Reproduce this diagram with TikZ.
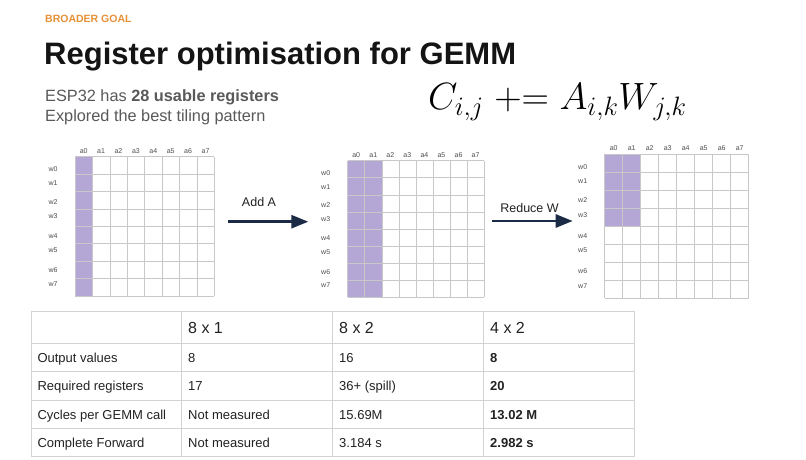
\RequirePackage{fix-cm}
\documentclass[tikz,border=0pt]{standalone}
\usepackage[no-math]{fontspec}
\setmainfont{Liberation Sans}
\usetikzlibrary{arrows.meta}
\definecolor{orangeT}{HTML}{E69138}
\definecolor{subgray}{HTML}{595959}
\definecolor{gridgray}{HTML}{C8C8C8}
\definecolor{lav}{HTML}{B4A7D6}
\definecolor{navy}{HTML}{1C2B45}
\definecolor{tabline}{HTML}{D3D3D3}
\definecolor{txt}{HTML}{222222}
\tikzset{
  gridline/.style={draw=gridgray, line width=0.6pt},
  collab/.style={font=\fontsize{7}{7}\selectfont, text=txt!80, inner sep=0pt},
  rowlab/.style={font=\fontsize{7}{7}\selectfont, text=txt!80, inner sep=0pt},
  bigarrow/.style={draw=navy, line width=2.7pt, -{Triangle[length=17pt,width=13pt]}},
  arrowlab/.style={font=\fontsize{12.5}{12.5}\selectfont, text=txt, anchor=base, inner sep=0pt},
  tabrule/.style={draw=tabline, line width=0.9pt},
  tabhead/.style={font=\fontsize{16}{16}\selectfont, text=txt, anchor=base west, inner sep=0pt},
  tabcell/.style={font=\fontsize{13}{13}\selectfont, text=txt, anchor=base west, inner sep=0pt},
  tabbold/.style={tabcell, font=\fontsize{13}{13}\selectfont\bfseries},
}
\newcommand\drawRegGrid[6]{%
  \fill[lav] (#2,#3) rectangle ++(#5*#4, #6*#4);
  \foreach \i in {0,...,8} {
    \draw[gridline] (#2+\i*#4, #3) -- ++(0, 8*#4);
    \draw[gridline] (#2, #3+\i*#4) -- ++(8*#4, 0);
  }
  \foreach \i in {0,...,7}
    \node[collab] (#1-a\i) at (#2+\i*#4+0.5*#4, #3-6) {a\i};
  \foreach \i/\o in {0/12.6,1/26.6,2/45,3/59.3,4/79.3,5/93.3,6/113.3,7/127.3}
    \node[rowlab] (#1-w\i) at (#2-22, #3+\o*#4/17.4) {w\i};
}
\begin{document}
\begin{tikzpicture}[x=1pt, y=-1pt]
\useasboundingbox[fill=white] (0,0) rectangle (806,460);

% header texts
\node[anchor=base west, inner sep=0pt, text=orangeT, font=\fontsize{10.5}{10.5}\selectfont\bfseries] (kicker) at (45,22.7) {BROADER GOAL};
\node[anchor=base west, inner sep=0pt, text=black!92, font=\fontsize{31}{31}\selectfont\bfseries] (title) at (44,64) {Register optimisation for GEMM};
\node[anchor=base west, inner sep=0pt, text=subgray, font=\fontsize{16.3}{16.3}\selectfont] (sub1) at (45,101.7) {ESP32 has \textbf{28 usable registers}};
\node[anchor=base west, inner sep=0pt, text=subgray, font=\fontsize{16.3}{16.3}\selectfont] (sub2) at (45,121.7) {Explored the best tiling pattern};
\node[anchor=base west, inner sep=0pt, font=\fontsize{38}{38}\selectfont] (formula) at (428,109.3) {$C_{i,j} \mathrel{+}= A_{i,k}W_{j,k}$};

% grids
\drawRegGrid{g1}{75}{156.7}{17.4}{1}{8}
\drawRegGrid{g2}{347.7}{160.7}{17.05}{2}{8}
\drawRegGrid{g3}{604.7}{154}{18}{2}{4}

% arrows
\coordinate (a1s) at (228.3,221.7);
\coordinate (a1e) at (308.3,221.7);
\draw[bigarrow] (a1s) -- (a1e);
\node[arrowlab] (addA) at (259,206.7) {Add A};
\coordinate (a2s) at (491.7,221);
\coordinate (a2e) at (572.7,221);
\draw[bigarrow] (a2s) -- (a2e);
\node[arrowlab] (redW) at (529.5,212.3) {Reduce W};

% table
\foreach \y in {311,343,371.7,400,428.3,456.7}
  \draw[tabrule] (31,\y) -- (634,\y);
\foreach \x in {31,181.5,332.5,483.5,634}
  \draw[tabrule] (\x,311) -- (\x,456.7);

\node[tabhead] (h1) at (188,333.3) {8 x 1};
\node[tabhead] (h2) at (339,333.3) {8 x 2};
\node[tabhead] (h3) at (490,333.3) {4 x 2};

\node[tabcell] (r1c0) at (37.3,362.4) {Output values};
\node[tabcell] (r1c1) at (188,362.4) {8};
\node[tabcell] (r1c2) at (339,362.4) {16};
\node[tabbold] (r1c3) at (490,362.4) {8};

\node[tabcell] (r2c0) at (37.3,390.8) {Required registers};
\node[tabcell] (r2c1) at (188,390.8) {17};
\node[tabcell] (r2c2) at (339,390.8) {36+ (spill)};
\node[tabbold] (r2c3) at (490,390.8) {20};

\node[tabcell] (r3c0) at (37.3,419.1) {Cycles per GEMM call};
\node[tabcell] (r3c1) at (188,419.1) {Not measured};
\node[tabcell] (r3c2) at (339,419.1) {15.69M};
\node[tabbold] (r3c3) at (490,419.1) {13.02 M};

\node[tabcell] (r4c0) at (37.3,447.4) {Complete Forward};
\node[tabcell] (r4c1) at (188,447.4) {Not measured};
\node[tabcell] (r4c2) at (339,447.4) {3.184 s};
\node[tabbold] (r4c3) at (490,447.4) {2.982 s};
\end{tikzpicture}
\end{document}
